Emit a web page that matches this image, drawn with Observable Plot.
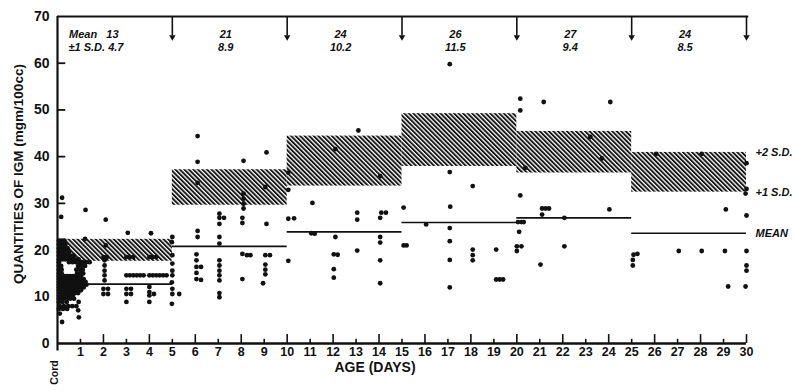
<!DOCTYPE html>
<html><head><meta charset="utf-8">
<script src="https://cdn.jsdelivr.net/npm/d3@7"></script>
<script src="https://cdn.jsdelivr.net/npm/@observablehq/plot@0.6"></script>
<style>
body{margin:0;background:#fff}
svg text{white-space:pre}
</style>
</head><body><div id="chart"></div>
<script>
// ---- data ----
const intervalStart = [0, 5, 10, 15, 20, 25];
const intervalEnd   = [5, 10, 15, 20, 25, 30];
const means   = [13, 21, 24, 26, 27, 24];
const sds     = [4.7, 8.9, 10.2, 11.5, 9.4, 8.5];
const meanLine = [12.7, 20.8, 23.9, 25.9, 26.9, 23.6];
const bandLow  = [17.6, 29.6, 33.7, 37.9, 36.5, 32.4];
const bandHigh = [22.3, 37.2, 44.4, 49.2, 45.4, 40.9];
const dayTicks = [1,2,3,4,5,6,7,8,9,10,11,12,13,14,15,16,17,18,19,20,21,22,23,24,25,26,27,28,29,30];
const evenDays = [2,4,6,8,10,12,14,16,18,20,22,24,26,28,30];
const oddDays  = [1,3,5,7,9,11,13,15,17,19,21,23,25,27,29];
const yTicks = [0,10,20,30,40,50,60,70];
const yInnerTicks = [10,20,30,40,50,60];
const arrowDays = [5,10,15,20,25,30];

// cord / day 0-1 cluster, rows of [value, ages]
const cordRows = [
  [22.0, [0.06,0.18,0.3]],
  [21.2, [0.06,0.2,0.34]],
  [20.4, [0.06,0.18,0.3,0.44]],
  [19.6, [0.06,0.2,0.34,0.5]],
  [18.8, [0.06,0.18,0.3,0.42,0.56,0.7]],
  [18.0, [0.06,0.2,0.34,0.5,0.64,0.78,0.92]],
  [17.4, [0.06,0.5,0.65,0.8,0.95,1.1,1.25,1.4]],
  [16.6, [0.06,0.16,0.9,1.05,1.2]],
  [15.8, [0.06,0.18,0.82,0.98,1.1]],
  [15.0, [0.06,0.18,0.85,1.0,1.12]],
  [14.4, [0.06,0.18,0.3,0.42,0.54,0.66,0.78,0.9,1.02]],
  [13.8, [0.06,0.18,0.3,0.42,0.54,0.66,0.78,0.9,1.02,1.14]],
  [13.2, [0.06,0.18,0.3,0.42,0.54,0.66,0.78,0.9,1.02,1.14,1.22]],
  [12.6, [0.06,0.18,0.3,0.42,0.54,0.66,0.78,0.9,1.02,1.14,1.26]],
  [12.0, [0.06,0.18,0.3,0.42,0.54,0.66,0.78,0.9,1.02,1.14]],
  [11.4, [0.06,0.18,0.3,0.42,0.54,0.66,0.78,0.9,1.02]],
  [10.8, [0.06,0.18,0.3,0.42,0.54,0.66,0.78,0.9]],
  [10.2, [0.06,0.18,0.3,0.42,0.54,0.66]],
  [9.6,  [0.06,0.2,0.36,0.55,0.72]],
  [8.9,  [0.06,0.22,0.4,0.92]],
  [8.0,  [0.1,0.28,0.46,0.64,0.82]],
  [7.4,  [0.06,0.24,0.42]]
];
// individual values [age in days, IgM mg/100cc]
const singles = [
  [0.2,31.2],[0.16,27.1],[0.1,6.4],[0.2,4.6],[0.9,7.1],[0.93,5.6],
  [1.22,28.6],[1.2,22.4],
  [2.1,26.5],[2.1,21.0],[2.0,18.5],[2.15,18.5],[2.05,17.8],[2.05,16.7],[2.05,15.6],[2.05,14.6],[2.05,13.5],[2.0,11.7],[2.2,11.7],[2.0,10.6],[2.2,10.6],
  [3.06,23.7],[3.0,18.5],[3.15,18.5],[3.3,18.5],[3.0,14.6],[3.15,14.6],[3.3,14.6],[3.45,14.6],[3.6,14.6],[3.75,14.6],[3.0,11.7],[3.2,11.7],[3.0,10.6],[3.2,10.6],[3.0,8.9],
  [4.07,23.6],[4.0,18.5],[4.15,18.5],[4.3,18.5],[4.0,14.6],[4.15,14.6],[4.3,14.6],[4.45,14.6],[4.6,14.6],[4.75,14.6],[4.0,12.1],[4.0,11.0],[4.2,10.6],[4.0,10.3],[4.0,8.9],
  [5.0,22.8],[4.98,21.7],[5.0,18.9],[5.0,17.1],[5.0,15.6],[5.0,14.6],[4.98,13.1],[5.0,11.7],[5.0,10.6],[5.3,10.6],[4.98,8.5],
  [6.1,44.4],[6.1,38.9],[6.1,34.4],[6.1,24.1],[6.1,22.8],[6.05,19.1],[6.05,17.8],[6.05,16.4],[6.25,16.4],[6.05,15.1],[6.05,13.8],[6.25,13.6],
  [7.05,27.8],[7.05,26.9],[7.25,26.9],[7.05,25.6],[7.05,22.8],[7.05,21.4],[7.05,17.8],[7.05,16.7],[7.05,15.6],[7.05,14.6],[7.05,13.5],[7.05,10.8],[7.05,9.9],
  [8.1,39.1],[8.1,32.1],[8.1,31.0],[8.1,29.9],[8.1,28.9],[8.05,26.9],[8.05,25.8],[8.05,19.2],[8.25,18.9],[8.4,18.9],[8.05,13.8],
  [9.1,40.9],[9.05,33.5],[9.1,25.6],[9.05,18.9],[9.25,18.9],[9.05,16.9],[9.05,15.8],[9.05,14.8],[8.95,12.9],
  [10.05,36.6],[10.05,32.9],[10.05,26.7],[10.3,26.8],[10.05,17.7],
  [11.1,30.1],[11.05,23.6],[11.2,23.5],
  [12.1,41.6],[12.1,22.8],[12.03,19.1],[12.2,19.0],[12.03,15.9],[12.03,14.1],
  [13.1,45.6],[13.05,28.0],[13.05,26.5],[13.05,19.9],
  [14.05,35.8],[14.1,28.0],[14.3,28.0],[14.05,26.9],[14.05,22.8],[14.05,21.6],[14.05,17.8],[14.05,12.9],
  [15.07,29.1],[15.07,21.0],[15.2,21.0],
  [16.05,25.5],
  [17.08,59.8],[17.08,36.7],[17.1,29.3],[17.08,24.7],[17.08,21.9],[17.08,17.9],[17.08,12.0],
  [18.08,33.7],[18.08,20.1],[18.08,18.9],[18.08,17.8],
  [19.1,20.1],[19.1,13.7],[19.25,13.7],[19.4,13.7],
  [20.15,52.4],[20.15,49.9],[20.37,37.6],[20.15,31.7],[20.05,26.0],[20.2,26.0],[20.3,26.0],[20.1,23.9],[20.0,20.8],[20.2,20.8],[20.0,19.8],
  [21.17,51.7],[21.1,28.9],[21.25,28.9],[21.4,28.9],[21.1,27.6],[21.03,16.9],
  [22.07,26.9],[22.07,20.8],[23.2,44.2],[23.7,39.6],
  [24.07,51.7],[24.03,28.7],
  [25.08,19.0],[25.25,19.2],[25.05,17.9],[25.05,16.7],
  [26.07,40.6],
  [27.05,19.8],
  [28.05,40.6],[28.05,19.8],
  [29.1,28.7],[29.06,19.8],[29.2,12.2],
  [30.0,38.6],[30.0,33.1],[29.96,32.1],[30.0,27.4],[30.0,19.8],[30.0,16.7],[30.0,15.6],[29.96,12.2]
];

// ---- tables built from the arrays ----
const points = [];
for (const [v, ages] of cordRows) for (const a of ages) points.push({age: a, igm: v});
for (const [a, v] of singles) points.push({age: a, igm: v});

const intervals = intervalStart.map((s, i) => ({
  start: s, end: intervalEnd[i], mean: means[i], sd: sds[i],
  line: meanLine[i], low: bandLow[i], high: bandHigh[i]
}));
const firstHeader = [
  {x: intervals[0].start, t: `Mean   ${intervals[0].mean}`, row: 0},
  {x: intervals[0].start, t: `\u00b11 S.D. ${intervals[0].sd}`, row: 1}
];
const otherHeaders = intervals.slice(1).map(d => ({x: (d.start + d.end) / 2, mean: `${d.mean}`, sd: `${d.sd}`}));
const last = intervals[intervals.length - 1];
const rightLabels = [
  {t: "+2 S.D.", y: last.high},
  {t: "+1 S.D.", y: last.low},
  {t: "MEAN", y: last.line}
];

const font = "'Liberation Sans', Arial, Helvetica, sans-serif";
const ink = "#111";
const hdr = {fontSize: 11, fontWeight: "bold", fontStyle: "italic", fill: ink};

const svg = Plot.plot({
  width: 794, height: 391,
  marginLeft: 57, marginRight: 48, marginTop: 16, marginBottom: 48,
  x: {domain: [0, 30], axis: null},
  y: {domain: [0, 70], axis: null},
  style: {fontFamily: font, background: "#fff", color: ink, overflow: "visible"},
  marks: [
    Plot.rect(intervals, {x1: "start", x2: "end", y1: "low", y2: "high", fill: "url(#hatch)"}),
    Plot.ruleY(intervals, {x1: "start", x2: "end", y: "line", stroke: ink, strokeWidth: 1.7}),
    Plot.dot(points, {x: "age", y: "igm", r: 2.4, fill: ink, stroke: "none"}),
    // frame
    Plot.ruleX([0], {y1: -1.6, y2: 70, stroke: ink, strokeWidth: 2.2}),
    Plot.ruleY([0], {x1: 0, x2: 30, stroke: ink, strokeWidth: 2.6}),
    Plot.ruleY([70], {x1: 0, x2: 30.1, stroke: ink, strokeWidth: 2.2}),
    Plot.ruleX(arrowDays, {y1: 70, y2: 65.8, stroke: ink, strokeWidth: 1.6}),
    Plot.dot(arrowDays, {x: d => d, y: 65.6, symbol: "triangle", rotate: 180, r: 2.4, fill: ink, stroke: "none"}),
    // ticks
    Plot.ruleY(yInnerTicks, {x1: 0, x2: 0.36, stroke: ink, strokeWidth: 1.8}),
    Plot.ruleX(evenDays, {y1: 0, y2: 1.9, stroke: ink, strokeWidth: 1.6}),
    Plot.ruleX(oddDays, {y1: 0, y2: 0.9, stroke: ink, strokeWidth: 1.6}),
    // tick labels
    Plot.axisX(dayTicks, {tickSize: 0, tickPadding: 4, label: null, fontSize: 12.5, fontWeight: "bold", fill: ink}),
    Plot.axisY(yTicks, {tickSize: 0, tickPadding: 8, label: null, fontSize: 14, fontWeight: "bold", fill: ink}),
    // axis titles
    Plot.text(["AGE (DAYS)"], {frameAnchor: "bottom", dx: -27, dy: 28, fontSize: 14, fontWeight: "bold", fill: ink}),
    Plot.text(["QUANTITIES OF IGM (mgm/100cc)"], {frameAnchor: "left", rotate: -90, textAnchor: "middle", dx: -39, dy: -6, fontSize: 13.5, fontWeight: "bold", fill: ink}),
    Plot.text(["Cord"], {frameAnchor: "bottom-left", rotate: -90, textAnchor: "middle", dy: 29, fontSize: 10.5, fontWeight: "bold", fill: ink}),
    // header statistics
    Plot.text(firstHeader.filter(d => d.row === 0), {x: "x", y: 70, text: "t", dx: 11.5, dy: 17.5, textAnchor: "start", ...hdr}),
    Plot.text(firstHeader.filter(d => d.row === 1), {x: "x", y: 70, text: "t", dx: 11, dy: 30.5, textAnchor: "start", ...hdr}),
    Plot.text(otherHeaders, {x: "x", y: 70, text: "mean", dx: -4, dy: 17.5, textAnchor: "middle", ...hdr}),
    Plot.text(otherHeaders, {x: "x", y: 70, text: "sd", dx: -4, dy: 30.5, textAnchor: "middle", ...hdr}),
    // right labels
    Plot.text(rightLabels, {x: 30, y: "y", text: "t", dx: 9, textAnchor: "start", ...hdr})
  ]
});

const defs = document.createElementNS("http://www.w3.org/2000/svg", "defs");
defs.innerHTML = `<pattern id="hatch" width="3.2" height="3.2" patternUnits="userSpaceOnUse" patternTransform="rotate(-45)">
  <rect width="3.2" height="3.2" fill="#ffffff"/><rect width="1.9" height="3.2" fill="#151515"/></pattern>`;
svg.insertBefore(defs, svg.firstChild);
document.getElementById("chart").appendChild(svg);
</script>
</body></html>
